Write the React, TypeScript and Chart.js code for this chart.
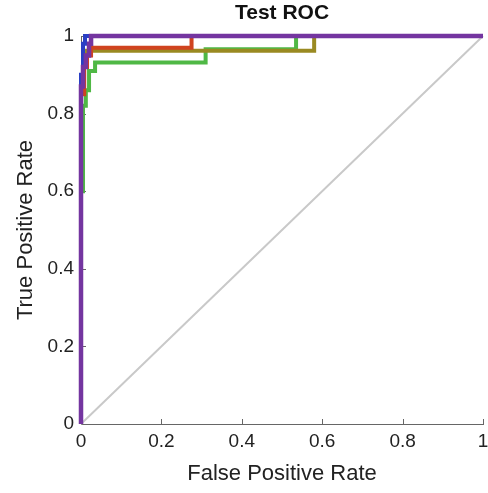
import React, { useEffect, useRef } from 'react';
import { Chart, registerables } from 'chart.js';

Chart.register(...registerables);

const chartTitle = 'Test ROC';
const xAxisTitle = 'False Positive Rate';
const yAxisTitle = 'True Positive Rate';
const tickValues = [0, 0.2, 0.4, 0.6, 0.8, 1];

const diagFpr = [0, 1];
const diagTpr = [0, 1];

const blueFpr = [0, 0, 0.005, 0.005, 0.01, 0.01, 1];
const blueTpr = [0, 0.9, 0.9, 0.98, 0.98, 1, 1];

const redFpr = [0, 0, 0.008, 0.008, 0.015, 0.015, 0.025, 0.025, 0.275, 0.275, 1];
const redTpr = [0, 0.85, 0.85, 0.92, 0.92, 0.95, 0.95, 0.97, 0.97, 1, 1];

const oliveFpr = [0, 0, 0.005, 0.005, 0.015, 0.015, 0.58, 0.58, 1];
const oliveTpr = [0, 0.88, 0.88, 0.95, 0.95, 0.962, 0.962, 1, 1];

const greenFpr = [0, 0, 0.005, 0.005, 0.012, 0.012, 0.02, 0.02, 0.035, 0.035, 0.31, 0.31, 0.535, 0.535, 1];
const greenTpr = [0, 0.6, 0.6, 0.82, 0.82, 0.86, 0.86, 0.91, 0.91, 0.932, 0.932, 0.966, 0.966, 1, 1];

const purpleFpr = [0, 0, 0.005, 0.005, 0.012, 0.012, 0.02, 0.02, 0.025, 0.025, 1];
const purpleTpr = [0, 0.87, 0.87, 0.92, 0.92, 0.95, 0.95, 0.98, 0.98, 1, 1];

const pts = (xs: number[], ys: number[]) => xs.map((x, i) => ({ x, y: ys[i] }));

const innerTicks = {
  id: 'innerTicks',
  beforeDatasetsDraw(chart: any) {
    const { ctx, scales } = chart;
    const xs = scales.x;
    const ys = scales.y;
    ctx.save();
    ctx.strokeStyle = '#666';
    ctx.lineWidth = 1;
    ctx.beginPath();
    tickValues.forEach((v) => {
      const px = Math.round(xs.getPixelForValue(v)) + 0.5;
      ctx.moveTo(px, ys.bottom);
      ctx.lineTo(px, ys.bottom - 5);
      const py = Math.round(ys.getPixelForValue(v)) + 0.5;
      ctx.moveTo(xs.left, py);
      ctx.lineTo(xs.left + 5, py);
    });
    ctx.stroke();
    ctx.restore();
  },
};

const plotTitle = {
  id: 'plotTitle',
  afterDraw(chart: any) {
    const { ctx, chartArea } = chart;
    ctx.save();
    ctx.fillStyle = '#111';
    ctx.font = 'bold 21px Arial, "Liberation Sans", sans-serif';
    ctx.textAlign = 'center';
    ctx.textBaseline = 'middle';
    ctx.fillText(chartTitle, (chartArea.left + chartArea.right) / 2, 13);
    ctx.restore();
  },
};

export default function App() {
  const ref = useRef<HTMLCanvasElement>(null);
  useEffect(() => {
    if (!ref.current) return;
    const line = (label: string, xs: number[], ys: number[], color: string, width: number, order: number) => ({
      label,
      data: pts(xs, ys),
      borderColor: color,
      backgroundColor: color,
      borderWidth: width,
      pointRadius: 0,
      fill: false,
      tension: 0,
      clip: 10,
      order,
    });
    const chart = new Chart(ref.current, {
      type: 'line',
      data: {
        datasets: [
          line('diag', diagFpr, diagTpr, '#c9c9c9', 2, 6),
          line('green', greenFpr, greenTpr, '#4fb845', 4, 5),
          line('olive', oliveFpr, oliveTpr, '#9a8a22', 4, 4),
          line('red', redFpr, redTpr, '#d0431f', 4, 3),
          line('blue', blueFpr, blueTpr, '#2a3fc4', 4, 2),
          line('purple', purpleFpr, purpleTpr, '#7435a0', 4.5, 1),
        ],
      },
      options: {
        animation: false,
        responsive: false,
        layout: { padding: { top: 36, right: 5, left: 0, bottom: 0 } },
        plugins: {
          legend: { display: false },
          tooltip: { enabled: false },
          title: { display: false },
        },
        scales: {
          x: {
            type: 'linear',
            min: 0,
            max: 1,
            afterBuildTicks: (s: any) => { s.ticks = tickValues.map((v) => ({ value: v })); },
            afterFit: (s: any) => { s.height = 69; s.paddingRight = 0; s.paddingLeft = 0; },
            grid: { display: false, drawTicks: false },
            border: { display: true, color: '#666', width: 1 },
            ticks: {
              color: '#222',
              padding: 6,
              maxRotation: 0,
              font: { family: 'Arial, Liberation Sans, sans-serif', size: 19 },
              callback: (v: any) => String(+Number(v).toFixed(1)),
            },
            title: {
              display: true,
              text: xAxisTitle,
              color: '#222',
              font: { family: 'Arial, Liberation Sans, sans-serif', size: 22 },
              padding: { top: 0, bottom: 6 },
            },
          },
          y: {
            type: 'linear',
            min: 0,
            max: 1,
            afterBuildTicks: (s: any) => { s.ticks = tickValues.map((v) => ({ value: v })); },
            afterFit: (s: any) => { s.width = 81; s.paddingTop = 0; s.paddingBottom = 0; },
            grid: { display: false, drawTicks: false },
            border: { display: true, color: '#666', width: 1 },
            ticks: {
              color: '#222',
              padding: 7,
              font: { family: 'Arial, Liberation Sans, sans-serif', size: 19 },
              callback: (v: any) => String(+Number(v).toFixed(1)),
            },
            title: {
              display: true,
              text: yAxisTitle,
              color: '#222',
              font: { family: 'Arial, Liberation Sans, sans-serif', size: 22 },
              padding: { top: 13, bottom: 0 },
            },
          },
        },
      },
      plugins: [innerTicks, plotTitle],
    } as any);
    return () => chart.destroy();
  }, []);
  return (
    <div style={{ position: 'fixed', left: 0, top: 0, width: 488, height: 493, background: '#fff' }}>
      <canvas ref={ref} width={488} height={493} />
    </div>
  );
}
